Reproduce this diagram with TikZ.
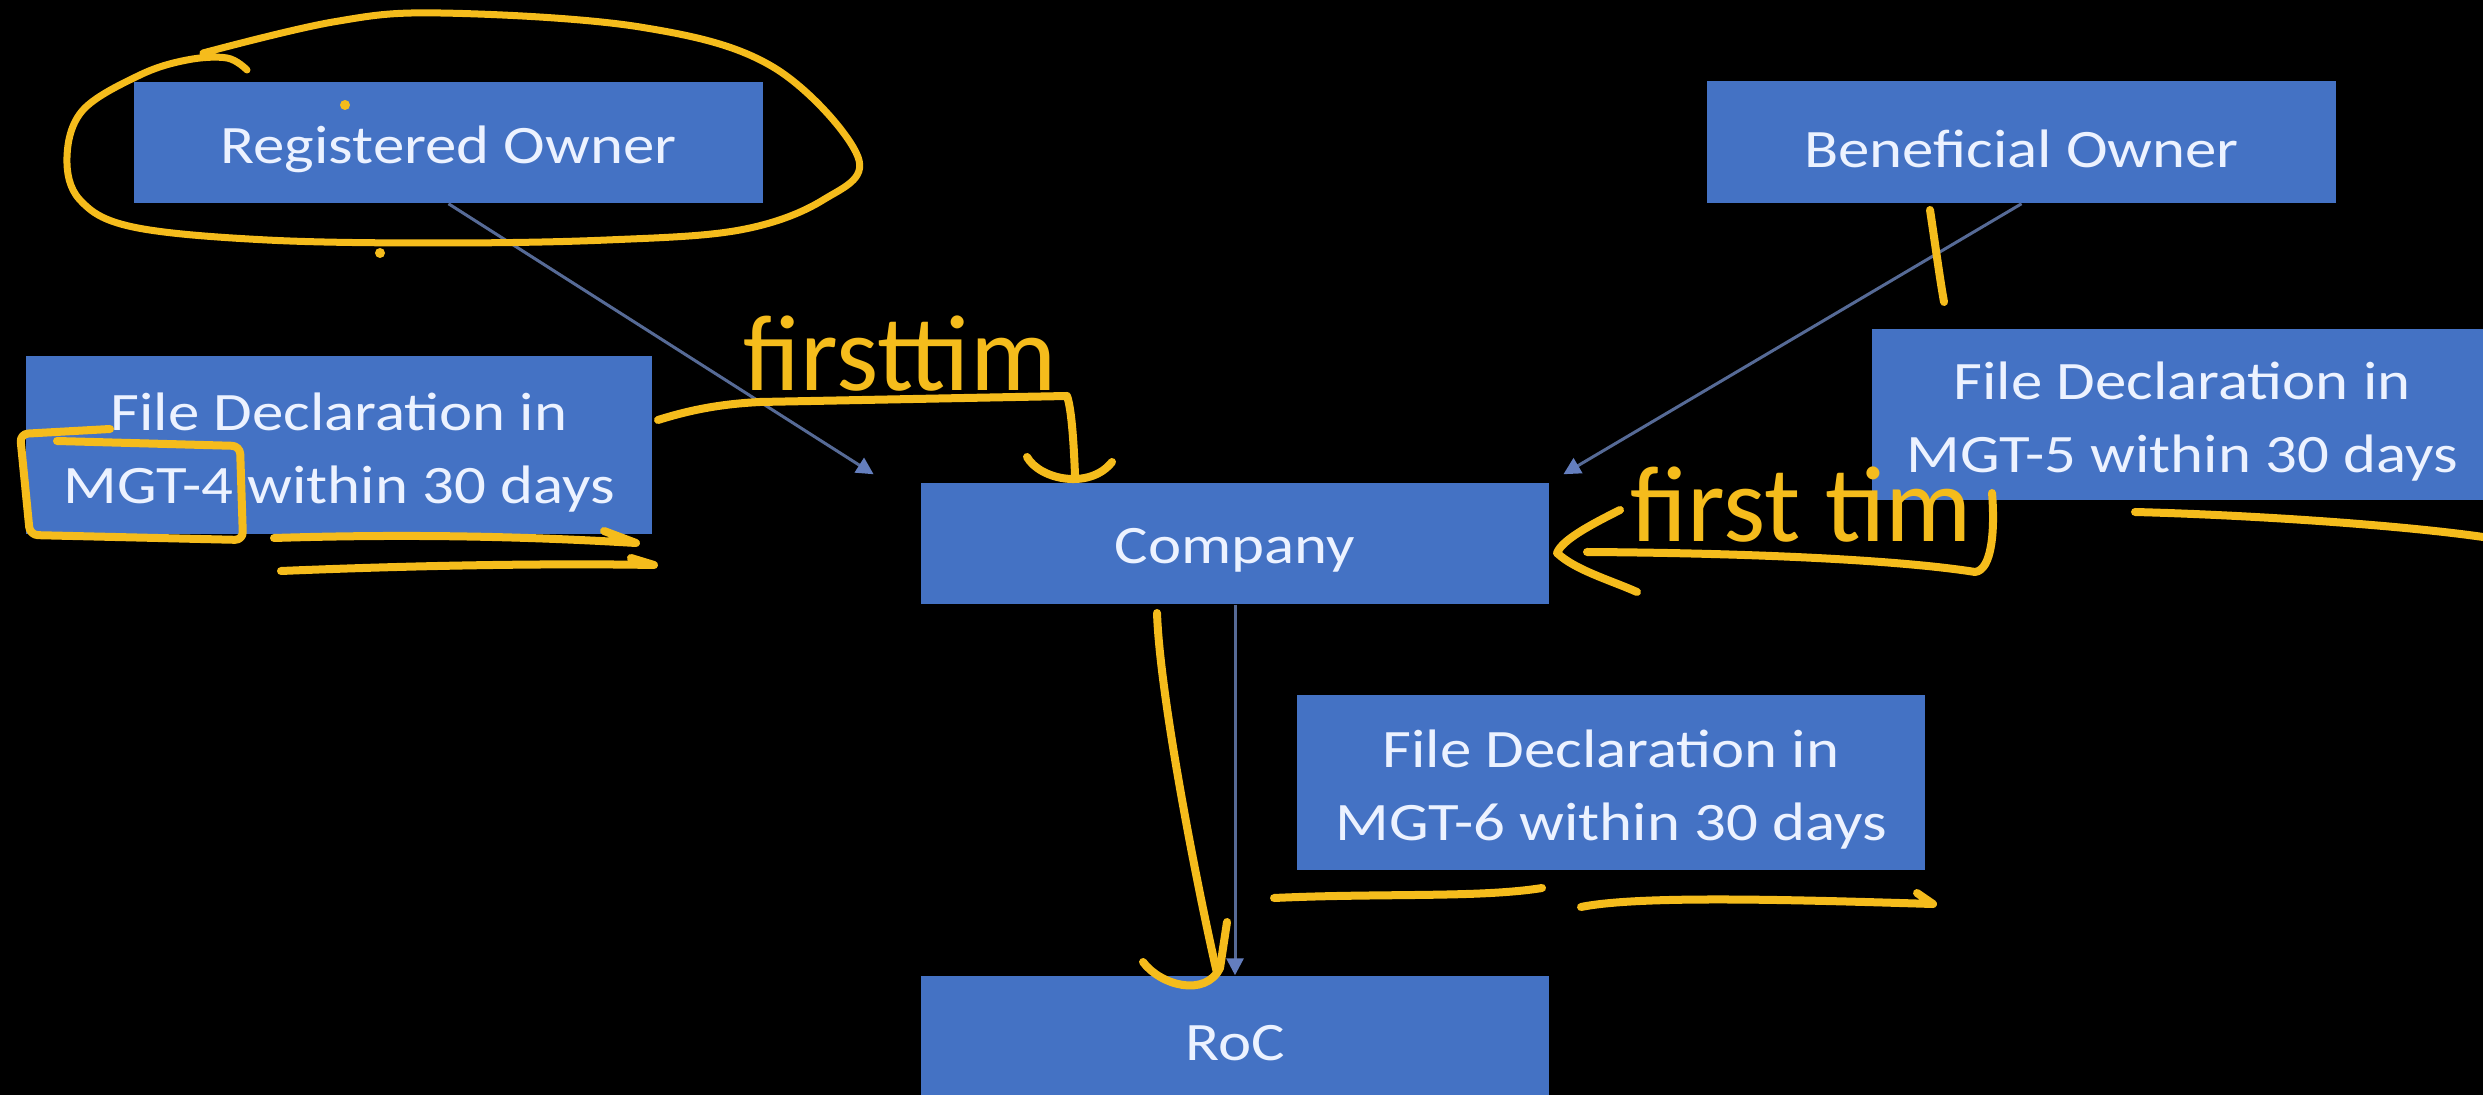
\documentclass[tikz,border=0pt]{standalone}
\usepackage{fontspec}
\setmainfont{Carlito}
\usetikzlibrary{arrows.meta,calc}

\definecolor{boxblue}{RGB}{68,114,196}
\definecolor{boxtext}{RGB}{236,242,255}
\definecolor{linkblue}{RGB}{86,106,150}
\definecolor{tipblue}{RGB}{100,126,190}
\definecolor{pen}{RGB}{245,188,28}

% box labels are set slightly wider than the font's natural width, a touch low
\newcommand{\widetext}[1]{\raisebox{-0.07cm}[\height][\depth]{\scalebox{1.16}[1]{#1}}}
\newcommand{\twolines}[2]{\widetext{\begin{tabular}{@{}c@{}}#1\\#2\end{tabular}}}

\begin{document}
\begin{tikzpicture}[x=0.01cm,y=-0.01cm,
  box/.style={fill=boxblue, draw=none, text=boxtext, inner sep=0pt,
    minimum width=6.27cm, minimum height=1.21cm,
    font=\fontsize{15.4}{20.8}\selectfont},
  tallbox/.style={box, minimum height=1.76cm},
  link/.style={draw=linkblue, line width=0.03cm,
    -{Triangle[length=0.17cm,width=0.17cm,color=tipblue]}},
  ink/.style={draw=pen, line width=0.08cm, line cap=round, line join=round},
  scrawl/.style={text=pen, font=\fontsize{30.7}{31}\selectfont,
    inner sep=0pt, anchor=base west}
]
\fill[black] (0,0) rectangle (2483,1095);
\useasboundingbox (0,0) rectangle (2483,1095);
\clip (0,0) rectangle (2483,1095);

% boxes
\node[box, minimum width=6.29cm] (ro) at (448.5,142.5) {\widetext{Registered Owner}};
\node[box, minimum width=6.29cm, minimum height=1.22cm] (bo) at (2021.5,142) {\widetext{Beneficial Owner}};
\node[tallbox, minimum width=6.26cm, minimum height=1.78cm] (m4) at (339,445)
  {\twolines{File Declaration in}{MGT-4 within 30 days}};
\node[tallbox, minimum width=6.20cm, minimum height=1.71cm] (m5) at (2182,414.5)
  {\twolines{File Declaration in}{MGT-5 within 30 days}};
\node[box] (co) at (1235,543.5) {\widetext{Company}};
\node[tallbox, minimum width=6.28cm, minimum height=1.75cm] (m6) at (1611,782.5)
  {\twolines{File Declaration in}{MGT-6 within 30 days}};
\node[box] (roc) at (1235,1036.5) {\widetext{RoC}};

% connectors
\coordinate (roend) at ($(co.north west)+(-47,-8)$);
\coordinate (boend) at ($(co.north east)+(14,-8)$);
\draw[link] (ro.south) -- (roend);
\draw[link] (bo.south) -- (boend);
\draw[link] (co.south) -- (roc.north);

% pen marks: loop round the registered owner
\draw[ink, line width=0.07cm] plot[smooth, tension=0.6] coordinates {(203,53) (333,22) (440,13) (640,27)
  (773,67) (858,157) (823,200) (740,230) (607,240) (440,243) (267,240) (133,227)
  (80,200) (67,157) (83,110) (140,75) (187,60) (227,58) (247,70)};
\fill[pen] (345,105) circle (0.05cm);
\fill[pen] (380,253) circle (0.05cm);

% pen marks round and under MGT-4
\draw[ink, rounded corners=0.08cm] (110,429) -- (20,434) -- (30,535) -- (243,540) -- (240,446) -- (57,441);
\draw[ink] (274,538) .. controls (400,534) and (520,536) .. (636,543) -- (604,531);
\draw[ink] (281,571) .. controls (400,566) and (540,563) .. (654,565) -- (631,558);

% first note, leading into the company
\draw[ink] (658,420) .. controls (690,410) and (720,404) .. (760,402) -- (1067,396)
  .. controls (1072,410) and (1074,450) .. (1075,475);
\draw[ink] (1027,457) .. controls (1040,480) and (1090,490) .. (1112,462);
\node[scrawl] (t1) at (743,391) {firsttim};

% second note, pointing back at the company
\draw[ink] (1620,510) .. controls (1590,525) and (1562,540) .. (1557,553)
  .. controls (1575,570) and (1610,580) .. (1637,592);
\draw[ink] (1587,552) .. controls (1750,553) and (1900,560) .. (1975,572)
  .. controls (1992,570) and (1995,530) .. (1992,493);
\node[scrawl] (t2) at (1630,542) {first tim};

% stroke under the beneficial owner and underline of MGT-5
\draw[ink] (1930,210) .. controls (1936,250) and (1940,280) .. (1944,302);
\draw[ink] (2135,512) .. controls (2250,515) and (2400,525) .. (2483,537);

% arrow from company down to RoC
\draw[ink] (1157,613) .. controls (1160,700) and (1200,900) .. (1217,973);
\draw[ink] (1143,962) .. controls (1160,985) and (1205,998) .. (1220,968) -- (1227,922);

% underlines of MGT-6
\draw[ink] (1274,898) .. controls (1380,893) and (1480,898) .. (1542,888);
\draw[ink] (1581,907) .. controls (1640,895) and (1800,900) .. (1933,904) -- (1917,893);
\end{tikzpicture}
\end{document}
